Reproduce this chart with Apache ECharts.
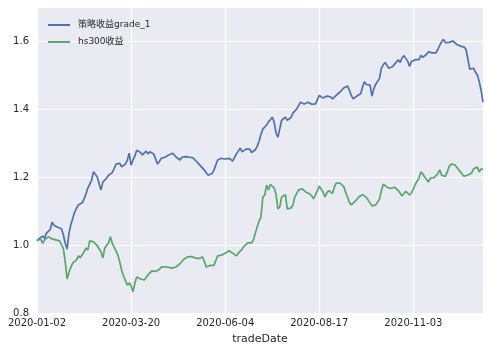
<!DOCTYPE html>
<html>
<head>
<meta charset="utf-8">
<script src="https://cdn.jsdelivr.net/npm/echarts@6/dist/echarts.min.js"></script>
<style>
html,body{margin:0;padding:0;background:#fff;}
#chart{width:489px;height:353px;}
</style>
</head>
<body>
<div id="chart"></div>
<script>
// Trading days of 2020: [month, day numbers]
const tradeDays = [
  ["01", [2,3,6,7,8,9,10,13,14,15,16,17,20,21,22,23]],
  ["02", [3,4,5,6,7,10,11,12,13,14,17,18,19,20,21,24,25,26,27,28]],
  ["03", [2,3,4,5,6,9,10,11,12,13,16,17,18,19,20,23,24,25,26,27,30,31]],
  ["04", [1,2,3,7,8,9,10,13,14,15,16,17,20,21,22,23,24,27,28,29,30]],
  ["05", [6,7,8,11,12,13,14,15,18,19,20,21,22,25,26,27,28,29]],
  ["06", [1,2,3,4,5,8,9,10,11,12,15,16,17,18,19,22,23,24,29,30]],
  ["07", [1,2,3,6,7,8,9,10,13,14,15,16,17,20,21,22,23,24,27,28,29,30,31]],
  ["08", [3,4,5,6,7,10,11,12,13,14,17,18,19,20,21,24,25,26,27,28,31]],
  ["09", [1,2,3,4,7,8,9,10,11,14,15,16,17,18,21,22,23,24,25,28,29,30]],
  ["10", [9,12,13,14,15,16,19,20,21,22,23,26,27,28,29,30]],
  ["11", [2,3,4,5,6,9,10,11,12,13,16,17,18,19,20,23,24,25,26,27,30]],
  ["12", [1,2,3,4,7,8,9,10,11,14,15,16,17,18,21,22,23,24]]
];

const strategyName = "策略收益grade_1";
const benchmarkName = "hs300收益";

const strategy = [
1.012,1.018,1.022,1.026,1.020,1.035,1.038,1.045,1.067,1.058,
1.055,1.052,1.053,1.048,1.030,1.005,0.988,1.035,1.060,1.078,
1.097,1.108,1.118,1.120,1.124,1.135,1.150,1.167,1.178,1.190,
1.215,1.208,1.200,1.195,1.162,1.185,1.190,1.197,1.205,1.210,
1.213,1.225,1.238,1.235,1.240,1.230,1.226,1.238,1.250,1.270,
1.235,1.250,1.262,1.279,1.282,1.272,1.265,1.270,1.276,1.268,
1.274,1.270,1.268,1.265,1.238,1.245,1.255,1.255,1.258,1.260,
1.265,1.262,1.270,1.265,1.258,1.255,1.250,1.258,1.258,1.260,
1.257,1.258,1.258,1.256,1.250,1.244,1.238,1.232,1.226,1.220,
1.212,1.205,1.200,1.210,1.220,1.235,1.250,1.255,1.255,1.252,
1.253,1.250,1.255,1.252,1.247,1.258,1.268,1.272,1.285,1.274,
1.278,1.282,1.285,1.282,1.272,1.267,1.280,1.290,1.305,1.325,
1.341,1.345,1.353,1.362,1.368,1.376,1.362,1.330,1.317,1.320,
1.367,1.372,1.376,1.367,1.362,1.375,1.388,1.392,1.400,1.410,
1.420,1.420,1.415,1.410,1.420,1.415,1.414,1.416,1.415,1.420,
1.440,1.438,1.432,1.430,1.438,1.443,1.436,1.430,1.435,1.440,
1.445,1.450,1.455,1.462,1.465,1.468,1.455,1.440,1.430,1.434,
1.438,1.438,1.445,1.465,1.480,1.472,1.468,1.470,1.438,1.460,
1.473,1.468,1.490,1.520,1.530,1.537,1.528,1.520,1.522,1.525,
1.532,1.537,1.545,1.537,1.550,1.557,1.555,1.540,1.525,1.540,
1.537,1.545,1.550,1.545,1.558,1.552,1.555,1.561,1.568,1.573,
1.565,1.567,1.565,1.575,1.587,1.598,1.605,1.595,1.593,1.596,
1.598,1.600,1.595,1.590,1.590,1.585,1.580,1.582,1.575,1.570,
1.517,1.513,1.520,1.508,1.500,1.480,1.455,1.420
];

const benchmark = [
1.015,1.012,1.017,1.005,1.015,1.020,1.024,1.022,1.018,1.015,
1.015,1.018,1.012,1.009,0.990,0.950,0.900,0.920,0.935,0.947,
0.950,0.956,0.968,0.962,0.965,0.980,0.991,0.985,1.012,1.010,
1.009,1.006,0.998,0.994,0.980,0.962,0.991,0.994,1.006,1.024,
1.005,0.994,0.990,0.970,0.950,0.925,0.909,0.895,0.882,0.888,
0.880,0.862,0.888,0.906,0.905,0.900,0.902,0.897,0.900,0.912,
0.910,0.924,0.920,0.922,0.920,0.928,0.935,0.930,0.936,0.938,
0.934,0.935,0.932,0.930,0.936,0.940,0.945,0.950,0.958,0.962,
0.965,0.965,0.966,0.965,0.962,0.959,0.960,0.962,0.965,0.950,
0.935,0.938,0.940,0.938,0.940,0.945,0.968,0.968,0.970,0.972,
0.976,0.980,0.983,0.985,0.976,0.972,0.968,0.976,0.982,0.988,
0.996,1.000,1.006,1.008,1.006,1.015,1.035,1.053,1.070,1.082,
1.141,1.147,1.176,1.162,1.178,1.175,1.168,1.150,1.106,1.112,
1.141,1.144,1.148,1.106,1.106,1.109,1.118,1.141,1.138,1.162,
1.165,1.165,1.162,1.155,1.153,1.150,1.144,1.136,1.135,1.160,
1.173,1.172,1.156,1.141,1.153,1.160,1.155,1.152,1.170,1.182,
1.180,1.182,1.180,1.172,1.155,1.141,1.125,1.118,1.123,1.128,
1.132,1.141,1.138,1.148,1.152,1.140,1.132,1.134,1.115,1.118,
1.118,1.120,1.135,1.160,1.179,1.176,1.170,1.168,1.166,1.162,
1.170,1.168,1.160,1.156,1.144,1.147,1.158,1.160,1.147,1.153,
1.165,1.178,1.188,1.196,1.215,1.209,1.200,1.195,1.185,1.197,
1.196,1.198,1.200,1.210,1.221,1.205,1.200,1.202,1.215,1.230,
1.238,1.238,1.236,1.232,1.222,1.215,1.208,1.202,1.197,1.206,
1.210,1.212,1.224,1.226,1.229,1.215,1.224,1.221
];

const yTicks = [0.8, 1.0, 1.2, 1.4, 1.6];

const dates = [];
tradeDays.forEach(function (md) {
  md[1].forEach(function (d) {
    dates.push("2020-" + md[0] + "-" + (d < 10 ? "0" + d : "" + d));
  });
});

const chart = echarts.init(document.getElementById('chart'), null, {renderer: 'canvas'});
const txt = '#262626';
const fontFam = '"DejaVu Sans", "Noto Sans CJK SC", sans-serif';
chart.setOption({
  animation: false,
  backgroundColor: '#ffffff',
  grid: {
    left: 37, right: 6, top: 7, bottom: 40,
    show: true, backgroundColor: '#EAEAF2', borderWidth: 0
  },
  legend: {
    orient: 'vertical',
    left: 43, top: 14,
    itemWidth: 22, itemHeight: 2, itemGap: 5,
    icon: 'rect',
    textStyle: {color: txt, fontSize: 9, fontFamily: fontFam, lineHeight: 12, padding: [0,0,0,3]},
    data: [strategyName, benchmarkName]
  },
  xAxis: {
    type: 'category',
    data: dates,
    boundaryGap: false,
    name: 'tradeDate',
    nameLocation: 'middle',
    nameGap: 21,
    nameTextStyle: {color: txt, fontSize: 11, fontFamily: fontFam},
    axisLine: {show: false},
    axisTick: {show: false},
    axisLabel: {interval: 49, color: txt, fontSize: 10, fontFamily: fontFam, margin: 5},
    splitLine: {show: true, interval: 49, lineStyle: {color: '#ffffff', width: 1.2}}
  },
  yAxis: {
    type: 'value',
    min: 0.8, max: 1.7, interval: 0.2,
    axisLine: {show: false},
    axisTick: {show: false},
    axisLabel: {
      color: txt, fontSize: 10, fontFamily: fontFam, margin: 8, showMaxLabel: false,
      formatter: function (v) {
        for (let k = 0; k < yTicks.length; k++) {
          if (Math.abs(yTicks[k] - v) < 1e-6) return yTicks[k].toFixed(1);
        }
        return '';
      }
    },
    splitLine: {show: true, lineStyle: {color: '#ffffff', width: 1.2}}
  },
  series: [
    {
      name: strategyName, type: 'line', data: strategy,
      symbol: 'none', lineStyle: {color: '#4C72B0', width: 1.7}, itemStyle: {color: '#4C72B0'}
    },
    {
      name: benchmarkName, type: 'line', data: benchmark,
      symbol: 'none', lineStyle: {color: '#55A868', width: 1.7}, itemStyle: {color: '#55A868'}
    }
  ]
});
</script>
</body>
</html>
